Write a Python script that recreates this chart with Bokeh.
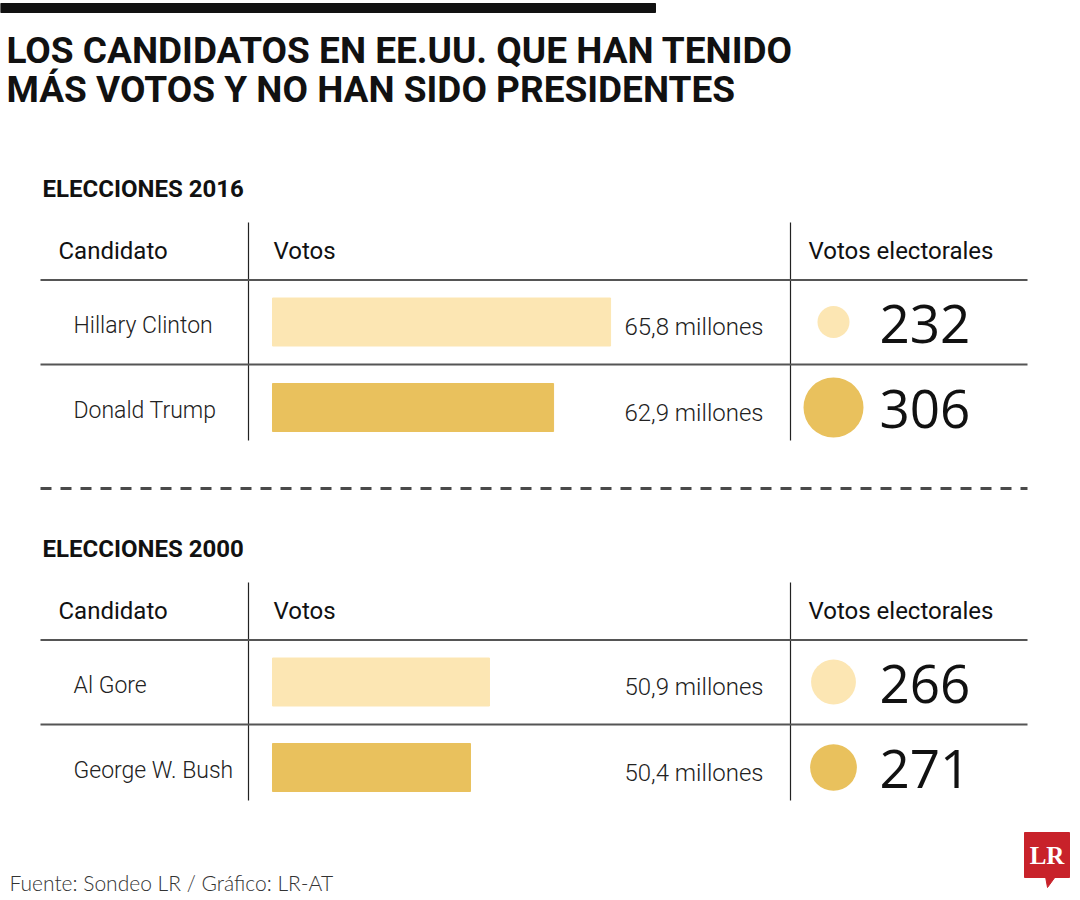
from bokeh.plotting import figure
from bokeh.models import Range1d, LinearInterpolator
from bokeh.transform import transform
from bokeh.core.properties import value
from bokeh.embed import file_html
from bokeh.resources import INLINE

# ---------------- data ----------------
titulo = ["LOS CANDIDATOS EN EE.UU. QUE HAN TENIDO", "MÁS VOTOS Y NO HAN SIDO PRESIDENTES"]
secciones = ["ELECCIONES 2016", "ELECCIONES 2000"]
encabezados = ["Candidato", "Votos", "Votos electorales"]
candidatos_2016 = ["Hillary Clinton", "Donald Trump"]
votos_2016 = [65.8, 62.9]          # millones
electorales_2016 = [232, 306]
candidatos_2000 = ["Al Gore", "George W. Bush"]
votos_2000 = [50.9, 50.4]          # millones
electorales_2000 = [266, 271]
fuente = "Fuente: Sondeo LR / Gráfico: LR-AT"

# ---------------- style ----------------
SANS = "Roboto"
LIGHT = "'Roboto Light', Roboto"
NUMF = "Open Sans"
bar_colors = ["#FCE6B3", "#E9C15D"]
LINE = "#555555"

W, H = 1076, 896
p = figure(width=W, height=H, x_range=Range1d(0, W), y_range=Range1d(H, 0),
           x_axis_type=None, y_axis_type=None, toolbar_location=None,
           output_backend="svg", min_border=0, outline_line_color=None,
           background_fill_color="white", border_fill_color="white")
p.grid.visible = False

# bar scales per section (truncated axes as in the original graphic)
BAR_X0 = 272
scales = {"v2016": (48.6, 19.655), "v2000": (45.19, 38.0)}   # base value, px per million
for name, (base, k) in scales.items():
    start = base - BAR_X0 / k
    p.extra_x_ranges[name] = Range1d(start, start + W / k)

# top rule
p.quad(left=[0], right=[655], top=[3], bottom=[12], color="#111111")

# title (text y = middle of the line box)
p.text(x=[6, 6], y=[50.2, 89.2], text=titulo, text_font=value(SANS), text_font_style="bold",
       text_font_size="37px", text_color="#111111", text_baseline="middle")

size_map = LinearInterpolator(x=[232, 306], y=[32, 60], clip=False)

sections = [
    (secciones[0], candidatos_2016, votos_2016, electorales_2016, "v2016", 0),
    (secciones[1], candidatos_2000, votos_2000, electorales_2000, "v2000", 360),
]
for sec, cands, votos, elect, rname, off in sections:
    base = scales[rname][0]
    rows = [321.5 + off, 407 + off]
    # heading
    p.text(x=[42], y=[188.7 + off], text=[sec], text_font=value(SANS), text_font_style="bold",
           text_font_size="24px", text_color="#111111", text_baseline="middle")
    # column headers
    p.text(x=[58, 273, 808], y=[250.7 + off] * 3, text=encabezados, text_font=value(SANS),
           text_font_size="24px", text_color="#111111", text_baseline="middle")
    # table lines
    p.segment(x0=[248, 790], y0=[222 + off] * 2, x1=[248, 790], y1=[440 + off] * 2,
              line_color="#222222", line_width=1.2)
    p.segment(x0=[40, 40], y0=[279.5 + off, 364 + off], x1=[1027, 1027],
              y1=[279.5 + off, 364 + off], line_color=LINE, line_width=2)
    # names
    p.text(x=[73, 73], y=[r + 3 for r in rows], text=cands, text_font=value(LIGHT),
           text_font_size="23px", text_color="#222222", text_baseline="middle")
    # bars
    p.hbar(y=rows, left=base, right=votos, height=48, color=bar_colors, x_range_name=rname)
    # vote labels
    labels = [f"{v:.1f}".replace(".", ",") + " millones" for v in votos]
    p.text(x=[763, 763], y=[r + 5 for r in rows], text=labels, text_font=value(LIGHT),
           text_font_size="24px", text_color="#222222", text_align="right",
           text_baseline="middle")
    # electoral votes
    src = dict(x=[833, 833], y=rows, ev=elect, c=bar_colors)
    p.scatter(x="x", y="y", size=transform("ev", size_map), fill_color="c", line_color=None,
              source=src)
    p.text(x=[879, 879], y=[r + 1.5 for r in rows], text=[str(e) for e in elect],
           text_font=value(NUMF), text_font_size="53px", text_color="#111111",
           text_baseline="middle")

# dashed separator
p.segment(x0=[40], y0=[488], x1=[1027], y1=[488], line_color="#4a4a4a", line_width=3,
          line_dash="11 9")

# footer
p.text(x=[9], y=[882], text=[fuente], text_font=value("'Lato Light', Lato"),
       text_font_size="21px", text_color="#333333", text_baseline="middle")

# logo
p.quad(left=[1024], right=[1069], top=[832], bottom=[877], color="#C8222A")
p.patch(x=[1045, 1055, 1047], y=[876, 876, 887], color="#C8222A")
p.text(x=[1046.5], y=[855], text=["LR"], text_font=value("Liberation Serif"),
       text_font_style="bold", text_font_size="25px", text_color="white",
       text_align="center", text_baseline="middle")

open("out.html", "w").write(file_html(p, INLINE))
